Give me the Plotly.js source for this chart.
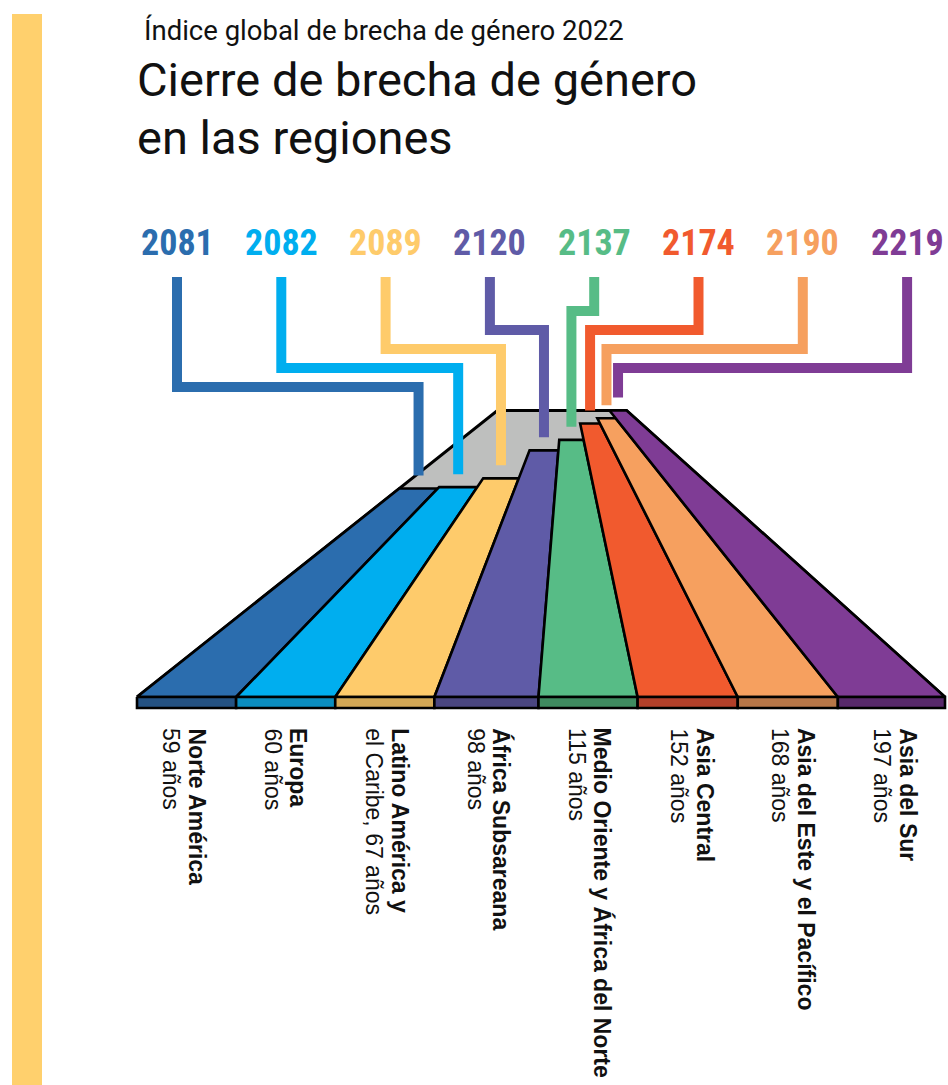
<!DOCTYPE html>
<html><head><meta charset="utf-8">
<script src="https://cdn.plot.ly/plotly-3.0.1.min.js"></script>
<style>html,body{margin:0;padding:0;background:#fff}</style>
</head><body><div id="chart" style="width:948px;height:1085px"></div>
<script>
// ---- data ----
const baseYear = 2022;
const regionNames = ["Norte América","Europa","Latino América y","África Subsareana","Medio Oriente y África del Norte","Asia Central","Asia del Este y el Pacífico","Asia del Sur"];
const nameLine2Prefix = ["","","el Caribe,","","","","",""];
const yearsToClose = [59,60,67,98,115,152,168,197];
const closureYears = yearsToClose.map(v => baseYear + v); // 2081 ... 2219
const colors = ["#2B6DAE","#00AEEF","#FECB6B","#5F5BA7","#57BC86","#F15A2E","#F6A05F","#7F3C95"];
const darkColors = ["#245283","#0A8DC0","#D3A856","#4A4680","#3F8B60","#B3402A","#B87748","#58296B"];

// ---- geometry (perspective ground plane) ----
const n = regionNames.length;
const P = {x0:137, x1:945, y0:697, xv:566, yv:356, D:37.5, band:11};
// relative lateral widths of the strips at the front edge (styling)
const laneWeights = [0.99,0.99,0.99,1.04,0.99,1.0,1.0,1.07];
const laneEdges = [0];
laneWeights.forEach((w,i)=>laneEdges.push(laneEdges[i]+w));
const laneTotal = laneEdges[n];
function proj(u, d){
  const s = 1/(1 + d/P.D);
  const k = Math.floor(Math.min(u, n-1e-9));
  const frac = laneEdges[k] + (u-k)*laneWeights[k];
  const xb = P.x0 + frac/laneTotal*(P.x1-P.x0);
  return [P.xv + (xb-P.xv)*s, P.yv + (P.y0-P.yv)*s];
}
const dMax = Math.max(...yearsToClose);
const traces = [];
// gray ground
{
  const pts = [proj(0,0), proj(0,dMax), proj(n,dMax), proj(n,0), proj(0,0)];
  traces.push({type:'scatter', mode:'lines', x:pts.map(p=>p[0]), y:pts.map(p=>p[1]),
    fill:'toself', fillcolor:'#BEBFBE', line:{color:'#000', width:3}, hoverinfo:'skip', showlegend:false});
}
// strips
for (let i=0;i<n;i++){
  const d = yearsToClose[i];
  const pts = [proj(i,0), proj(i,d), proj(i+1,d), proj(i+1,0), proj(i,0)];
  traces.push({type:'scatter', mode:'lines', x:pts.map(p=>p[0]), y:pts.map(p=>p[1]),
    fill:'toself', fillcolor:colors[i], line:{color:'#000', width:2.6}, hoverinfo:'skip', showlegend:false});
}
// front band
for (let i=0;i<n;i++){
  const a = proj(i,0), b = proj(i+1,0);
  const xs=[a[0],b[0],b[0],a[0],a[0]], ys=[P.y0,P.y0,P.y0+P.band,P.y0+P.band,P.y0];
  traces.push({type:'scatter', mode:'lines', x:xs, y:ys,
    fill:'toself', fillcolor:darkColors[i], line:{color:'#000', width:2.6}, hoverinfo:'skip', showlegend:false});
}
// connectors and year labels
const labelX0 = 177, labelStep = 104.3, connTop = 277;
const bottomX0 = 197, bottomStep = 101.6, lineGap = 26;
const annotations = [];
for (let i=0;i<n;i++){
  const lx = labelX0 + i*labelStep;
  const t = proj(i+0.5, yearsToClose[i]);
  const elbow = 311 + 19*Math.abs(i-4);
  const endY = t[1] - 13;
  traces.push({type:'scatter', mode:'lines', x:[lx,lx,t[0],t[0]], y:[connTop,elbow,elbow,endY],
    line:{color:colors[i], width:10}, hoverinfo:'skip', showlegend:false});
  annotations.push({x:lx, y:243, xref:'x', yref:'y', showarrow:false, xanchor:'center', yanchor:'middle',
    text:'<b>'+closureYears[i]+'</b>', font:{family:'Roboto Condensed, Roboto, sans-serif', size:36, color:colors[i]}});
  const bx = bottomX0 + i*bottomStep;
  annotations.push({x:bx, y:726, xref:'x', yref:'y', showarrow:false, textangle:90, xanchor:'center', yanchor:'top',
    text:'<b>'+regionNames[i]+'</b>', font:{family:'Liberation Sans, Arial, sans-serif', size:23, color:'#111'}});
  const pre = nameLine2Prefix[i] ? nameLine2Prefix[i]+' ' : '';
  annotations.push({x:bx-lineGap, y:726, xref:'x', yref:'y', showarrow:false, textangle:90, xanchor:'center', yanchor:'top',
    text: pre + yearsToClose[i] + ' años', font:{family:'Liberation Sans, Arial, sans-serif', size:23, color:'#111'}});
}
// titles
annotations.push({x:142, y:30, xref:'x', yref:'y', showarrow:false, xanchor:'left', yanchor:'middle',
  text:'Índice global de brecha de género 2022', font:{family:'Roboto, sans-serif', size:27.5, color:'#111'}});
annotations.push({x:135, y:79, xref:'x', yref:'y', showarrow:false, xanchor:'left', yanchor:'middle',
  text:'Cierre de brecha de género', font:{family:'Roboto, sans-serif', size:47, color:'#111'}});
annotations.push({x:135, y:137, xref:'x', yref:'y', showarrow:false, xanchor:'left', yanchor:'middle',
  text:'en las regiones', font:{family:'Roboto, sans-serif', size:47, color:'#111'}});

const layout = {
  width:948, height:1085, margin:{l:0,r:0,t:0,b:0},
  paper_bgcolor:'#fff', plot_bgcolor:'#fff',
  xaxis:{range:[0,948], visible:false, fixedrange:true},
  yaxis:{range:[1085,0], visible:false, fixedrange:true},
  shapes:[{type:'rect', xref:'x', yref:'y', x0:12, x1:42, y0:14, y1:1085, fillcolor:'#FFD06D', line:{width:0}, layer:'below'}],
  annotations: annotations, showlegend:false
};
Plotly.newPlot('chart', traces, layout, {displayModeBar:false, staticPlot:true});
</script></body></html>
